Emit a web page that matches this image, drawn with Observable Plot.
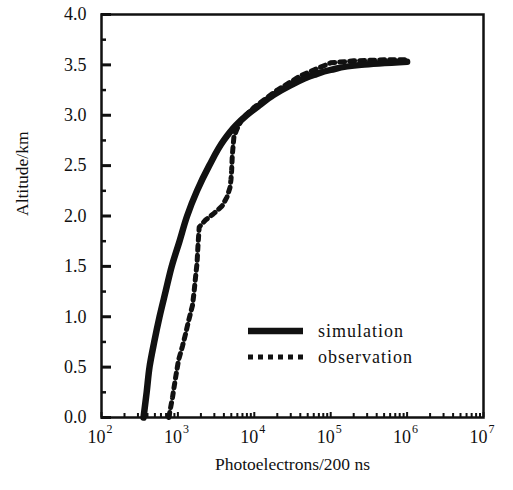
<!DOCTYPE html>
<html><head><meta charset="utf-8">
<script src="https://cdn.jsdelivr.net/npm/d3@7"></script>
<script src="https://cdn.jsdelivr.net/npm/@observablehq/plot@0.6"></script>
<style>
body{margin:0;background:#fff;}
#wrap{position:relative;width:513px;height:490px;font-family:"Liberation Serif","DejaVu Serif",serif;}
#legend{position:absolute;left:246px;top:318px;font-size:18px;letter-spacing:1px;color:#111;}
#legend div{height:26px;display:flex;align-items:center;}
#legend svg{margin-right:14px;}
</style></head>
<body><div id="wrap"><div id="legend">
<div><svg width="58" height="10"><line x1="2" y1="5" x2="57" y2="5" stroke="#111" stroke-width="6.5"/></svg>simulation</div>
<div><svg width="58" height="10"><line x1="2" y1="5" x2="58" y2="5" stroke="#111" stroke-width="5" stroke-dasharray="5,5"/></svg>observation</div>
</div></div>
<script>
const simX = [355,390,425,490,575,690,830,1050,1320,1780,2570,3980,5750,7940,11750,17800,30200,60300,100000,251000,1000000];
const simY = [0,0.25,0.5,0.75,1.0,1.25,1.5,1.75,2.0,2.25,2.5,2.75,2.9,3.0,3.1,3.2,3.3,3.4,3.45,3.5,3.53];
const obsX = [760,850,930,1020,1150,1260,1380,1550,1620,1700,1780,1830,1900,2300,2900,3800,4400,4800,4950,5050,5150,5400,5900,7000,10000,20000,40000,70000,100000,200000,500000,1000000];
const obsY = [0.0,0.2,0.39,0.57,0.71,0.83,0.96,1.11,1.23,1.39,1.53,1.7,1.89,1.96,2.02,2.1,2.19,2.28,2.36,2.45,2.6,2.78,2.86,2.97,3.08,3.25,3.39,3.47,3.52,3.54,3.55,3.55];
const yMajor = [0,0.5,1.0,1.5,2.0,2.5,3.0,3.5,4.0];
const yMinor = [0.25,0.75,1.25,1.75,2.25,2.75,3.25,3.75];
const yLabels = ["0.0","0.5","1.0","1.5","2.0","2.5","3.0","3.5","4.0"];
const decades = [1e2,1e3,1e4,1e5,1e6,1e7];
const exps = ["2","3","4","5","6","7"];
const mult = [2,3,4,5,6,7,8,9];
const xMinor = [1e2,1e3,1e4,1e5,1e6].flatMap(d => mult.map(m => d*m));

const sim = simX.map((x,i)=>({x, y: simY[i]}));
const obs = obsX.map((x,i)=>({x, y: obsY[i]}));
const W = 513, H = 490, mL = 101, mR = 30, mT = 14, mB = 73;
const pw = W - mL - mR, ph = H - mT - mB;
const font = "Liberation Serif";

const chart = Plot.plot({
  width: W, height: H,
  marginLeft: mL, marginRight: mR, marginTop: mT, marginBottom: mB,
  style: {fontFamily: font, background: "transparent", overflow: "visible"},
  x: {type: "log", domain: [1e2, 1e7], axis: null},
  y: {domain: [0, 4], axis: null},
  marks: [
    Plot.line(obs, {x: "x", y: "y", stroke: "#111", strokeWidth: 5, strokeDasharray: "5,5", curve: "linear"}),
    Plot.line(sim, {x: "x", y: "y", stroke: "#111", strokeWidth: 6.5, curve: "monotone-y"}),
    Plot.tickY(yMajor, {y: d => d, stroke: "#111", strokeWidth: 3, insetRight: pw - 10}),
    Plot.tickY(yMinor, {y: d => d, stroke: "#111", strokeWidth: 2.5, insetRight: pw - 5}),
    Plot.tickX(xMinor, {x: d => d, stroke: "#111", strokeWidth: 2, insetTop: ph - 4}),
    Plot.tickX(decades, {x: d => d, stroke: "#111", strokeWidth: 2, insetTop: ph - 5}),
    Plot.frame({stroke: "#111", strokeWidth: 2.5}),
    Plot.text(yMajor, {x: 1e2, y: d => d, text: (d,i) => yLabels[i], textAnchor: "end", dx: -15, fontSize: 18, fill: "#111"}),
    Plot.text(decades, {x: d => d, y: 0, text: () => "10", textAnchor: "end", dx: 4, dy: 20, fontSize: 18, fill: "#111"}),
    Plot.text(decades, {x: d => d, y: 0, text: (d,i) => exps[i], textAnchor: "start", dx: 5, dy: 12, fontSize: 12, fill: "#111"}),
    Plot.text(["Photoelectrons/200 ns"], {frameAnchor: "bottom", text: d => d, dy: 52, fontSize: 17.5, fill: "#111"}),
    Plot.text(["Altitude/km"], {frameAnchor: "left", text: d => d, rotate: -90, dx: -79, fontSize: 17.5, letterSpacing: 0.7, fill: "#111"})
  ]
});
chart.style.position = "absolute"; chart.style.left = "0"; chart.style.top = "0";
document.getElementById("wrap").prepend(chart);
</script></body></html>
